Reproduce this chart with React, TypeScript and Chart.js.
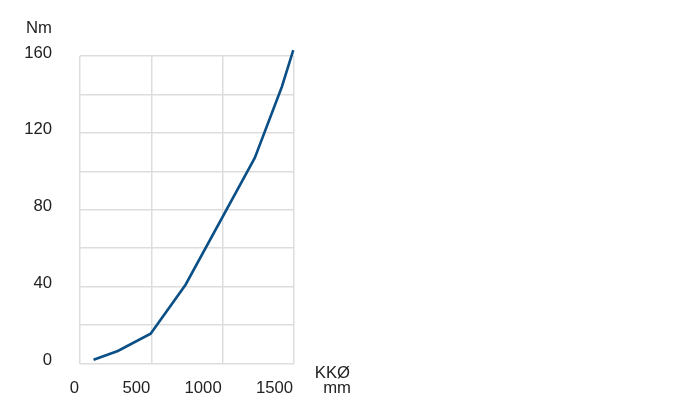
import React, { useEffect, useRef } from "react";
import { Chart, registerables } from "chart.js";

Chart.register(...registerables);

const diameters: number[] = [95, 265, 495, 740, 1225, 1415, 1495];
const torques: number[] = [2, 6.5, 15.5, 41, 107, 144, 163];
const yTickLabels: number[] = [0, 40, 80, 120, 160];
const xTickLabels: number[] = [0, 500, 1000, 1500];
const yUnit = "Nm";
const xUnitLines: string[] = ["KKØ", "mm"];

const FONT = "'Liberation Sans', Arial, Helvetica, sans-serif";
const TEXT = "#222222";
const FSIZE = 16.7;

const unitLabels = {
  id: "unitLabels",
  afterDraw(chart: any) {
    const { ctx, chartArea } = chart;
    ctx.save();
    ctx.font = `${FSIZE}px ${FONT}`;
    ctx.fillStyle = TEXT;
    ctx.textAlign = "right";
    ctx.textBaseline = "alphabetic";
    ctx.fillText(yUnit, chartArea.left - 28, chartArea.top - 23);
    ctx.fillText(xUnitLines[0], chartArea.right + 56, chartArea.bottom + 14);
    ctx.fillText(xUnitLines[1], chartArea.right + 57, chartArea.bottom + 29);
    ctx.restore();
  },
};

export default function App() {
  const ref = useRef<HTMLCanvasElement | null>(null);
  useEffect(() => {
    if (!ref.current) return;
    const chart = new Chart(ref.current, {
      type: "line",
      data: {
        datasets: [
          {
            data: diameters.map((x, i) => ({ x, y: torques[i] })),
            borderColor: "#0b4f87",
            borderWidth: 2.6,
            pointRadius: 0,
            tension: 0,
            fill: false,
            clip: false,
          },
        ],
      },
      options: {
        animation: false,
        responsive: false,
        maintainAspectRatio: false,
        layout: { padding: { left: 0, right: 406, top: 56, bottom: 0 } },
        plugins: { legend: { display: false }, tooltip: { enabled: false } },
        scales: {
          x: {
            type: "linear",
            min: 0,
            max: 1500,
            border: { display: false },
            grid: { color: "#dddddd", lineWidth: 1.5, drawTicks: false },
            afterFit(scale: any) {
              scale.height = 47.5;
            },
            afterBuildTicks(scale: any) {
              scale.ticks = xTickLabels.map((v) => ({ value: v }));
            },
            ticks: {
              align: "end",
              labelOffset: -1,
              padding: 15,
              maxRotation: 0,
              color: TEXT,
              font: { family: FONT, size: FSIZE },
              callback: (v: any) => String(v),
            },
          },
          y: {
            type: "linear",
            min: 0,
            max: 160,
            border: { display: false },
            grid: { color: "#dddddd", lineWidth: 1.5, drawTicks: false },
            afterFit(scale: any) {
              scale.width = 80;
            },
            ticks: {
              stepSize: 20,
              padding: 28,
              labelOffset: -3,
              color: TEXT,
              font: { family: FONT, size: FSIZE },
              callback: (v: any) => (yTickLabels.includes(Number(v)) ? String(v) : ""),
            },
          },
        },
      },
      plugins: [unitLabels],
    } as any);
    return () => chart.destroy();
  }, []);
  return (
    <div style={{ position: "fixed", left: 0, top: 0, width: 700, height: 411, background: "#fff" }}>
      <canvas ref={ref} width={700} height={411} style={{ width: 700, height: 411 }} />
    </div>
  );
}
